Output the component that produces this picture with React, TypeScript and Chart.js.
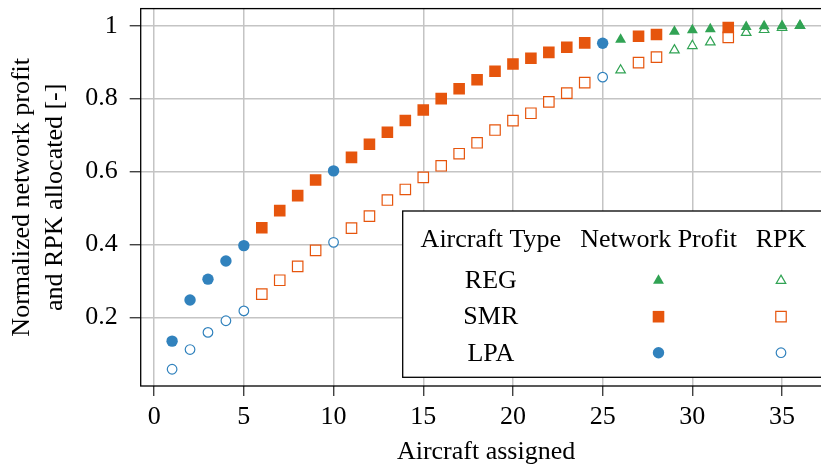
import React, { useEffect, useRef } from 'react';
import { Chart, registerables } from 'chart.js';

Chart.register(...registerables);

const FONT = "'Liberation Serif', 'Times New Roman', Times, serif";
const GREEN = '#31a354';
const ORANGE = '#e6550d';
const BLUE = '#3182bd';
const GRID = '#c4c4c4';

// ---- data ----
const regX = [26, 29, 30, 31, 33, 34, 35, 36];
const regProfit = [0.962, 0.984, 0.988, 0.991, 0.997, 0.999, 1.0, 1.0];
const regRpk = [0.878, 0.933, 0.945, 0.955, 0.981, 0.989, 0.995, 1.0];

const smrX = [6, 7, 8, 9, 11, 12, 13, 14, 15, 16, 17, 18, 19, 20, 21, 22, 23, 24, 27, 28, 32];
const smrProfit = [0.446, 0.493, 0.534, 0.577, 0.639, 0.675, 0.708, 0.74, 0.769, 0.8, 0.827, 0.852, 0.875, 0.895, 0.911, 0.927, 0.941, 0.953, 0.971, 0.976, 0.995];
const smrRpk = [0.264, 0.302, 0.34, 0.384, 0.445, 0.478, 0.522, 0.551, 0.584, 0.616, 0.649, 0.679, 0.714, 0.74, 0.76, 0.791, 0.815, 0.844, 0.899, 0.914, 0.968];

const lpaX = [1, 2, 3, 4, 5, 10, 25];
const lpaProfit = [0.135, 0.248, 0.305, 0.355, 0.397, 0.602, 0.952];
const lpaRpk = [0.058, 0.112, 0.159, 0.191, 0.218, 0.406, 0.859];

const xTicks = [0, 5, 10, 15, 20, 25, 30, 35];
const yTicks = [0.2, 0.4, 0.6, 0.8, 1.0];

const legendHeaders = ['Aircraft Type', 'Network Profit', 'RPK'];
const legendRows = ['REG', 'SMR', 'LPA'];
const xTitle = 'Aircraft assigned';
const yTitle = ['Normalized network profit', 'and RPK allocated [-]'];

const pts = (xs: number[], ys: number[]) => xs.map((x, i) => ({ x, y: ys[i] }));

type MarkerStyle = 'circle' | 'rect' | 'triangle';
interface Mk { style: MarkerStyle; filledR: number; openR: number; color: string }
const markers: Mk[] = [
  { style: 'triangle', filledR: 6.3, openR: 5.5, color: GREEN },
  { style: 'rect', filledR: 8.2, openR: 7.4, color: ORANGE },
  { style: 'circle', filledR: 5.7, openR: 4.8, color: BLUE },
];

function drawMarker(ctx: CanvasRenderingContext2D, style: MarkerStyle, x: number, y: number, r: number, fill: string, stroke: string, lw: number) {
  ctx.beginPath();
  if (style === 'circle') {
    ctx.arc(x, y, r, 0, Math.PI * 2);
  } else if (style === 'rect') {
    const s = r * Math.SQRT1_2;
    ctx.rect(x - s, y - s, 2 * s, 2 * s);
  } else {
    for (let k = 0; k < 3; k++) {
      const a = (k * 2 * Math.PI) / 3;
      const px = x + Math.sin(a) * r;
      const py = y - Math.cos(a) * r;
      if (k === 0) ctx.moveTo(px, py);
      else ctx.lineTo(px, py);
    }
    ctx.closePath();
  }
  ctx.fillStyle = fill;
  ctx.fill();
  if (lw > 0) {
    ctx.lineWidth = lw;
    ctx.strokeStyle = stroke;
    ctx.stroke();
  }
}

const framePlugin = {
  id: 'frameAndTable',
  afterDraw(chart: any) {
    const { ctx, chartArea: ca } = chart;
    ctx.save();
    ctx.strokeStyle = '#000';
    ctx.lineWidth = 1.3;
    ctx.strokeRect(ca.left, ca.top, ca.right - ca.left, ca.bottom - ca.top);

    // table-style legend
    const bx = 402.7, by = 211, bw = 440, bh = 166.3;
    ctx.fillStyle = '#fff';
    ctx.fillRect(bx, by, bw, bh);
    ctx.strokeRect(bx, by, bw, bh);

    const colX = [490.8, 658.5, 781];
    ctx.fillStyle = '#000';
    ctx.font = `26px ${FONT}`;
    ctx.textAlign = 'center';
    ctx.textBaseline = 'alphabetic';
    legendHeaders.forEach((h, i) => ctx.fillText(h, colX[i], 246.7));
    const rowBase = [288.3, 324.3, 360.6];
    const rowMid = [280.6, 316.7, 352.7];
    legendRows.forEach((r, i) => {
      ctx.fillStyle = '#000';
      ctx.fillText(r, colX[0], rowBase[i]);
      const m = markers[i];
      drawMarker(ctx, m.style, colX[1], rowMid[i], m.filledR, m.color, m.color, 0);
      drawMarker(ctx, m.style, colX[2], rowMid[i], m.openR, '#fff', m.color, 1.2);
    });
    ctx.restore();
  },
};

function filledSet(label: string, data: any[], m: Mk) {
  return {
    label,
    data,
    pointStyle: m.style,
    pointRadius: m.filledR,
    pointBackgroundColor: m.color,
    pointBorderColor: m.color,
    pointBorderWidth: 0,
    showLine: false,
  };
}
function openSet(label: string, data: any[], m: Mk) {
  return {
    label,
    data,
    pointStyle: m.style,
    pointRadius: m.openR,
    pointBackgroundColor: '#fff',
    pointBorderColor: m.color,
    pointBorderWidth: 1.2,
    showLine: false,
  };
}

export default function App() {
  const ref = useRef<HTMLCanvasElement>(null);
  useEffect(() => {
    document.body.style.margin = '0';
    const chart = new Chart(ref.current as HTMLCanvasElement, {
      type: 'scatter',
      data: {
        datasets: [
          filledSet('REG Network Profit', pts(regX, regProfit), markers[0]),
          filledSet('SMR Network Profit', pts(smrX, smrProfit), markers[1]),
          filledSet('LPA Network Profit', pts(lpaX, lpaProfit), markers[2]),
          openSet('REG RPK', pts(regX, regRpk), markers[0]),
          openSet('SMR RPK', pts(smrX, smrRpk), markers[1]),
          openSet('LPA RPK', pts(lpaX, lpaRpk), markers[2]),
        ] as any,
      },
      options: {
        animation: false,
        responsive: false,
        devicePixelRatio: 1,
        layout: { padding: { top: 6.3, right: 8.2, left: 0, bottom: 0 } },
        plugins: { legend: { display: false }, tooltip: { enabled: false } },
        scales: {
          x: {
            type: 'linear',
            min: -0.75,
            max: 37.75,
            afterBuildTicks: (s: any) => { s.ticks = xTicks.map((v) => ({ value: v })); },
            afterFit: (s: any) => { s.height = 83; s.paddingLeft = 0; s.paddingRight = 0; },
            border: { display: false },
            grid: { color: GRID, lineWidth: 1.5, tickLength: 10, tickColor: '#222', tickWidth: 1.2 },
            ticks: {
              color: '#000',
              padding: 6,
              maxRotation: 0,
              font: { family: FONT, size: 26 },
              callback: (v: any) => String(v),
            },
            title: {
              display: true,
              text: xTitle,
              color: '#000',
              font: { family: FONT, size: 26, lineHeight: 1.2 },
              padding: { top: 0, bottom: 1.7 },
            },
          },
          y: {
            type: 'linear',
            min: 0.012,
            max: 1.047,
            afterBuildTicks: (s: any) => { s.ticks = yTicks.map((v) => ({ value: v })); },
            afterFit: (s: any) => { s.width = 140.7; s.paddingTop = 0; s.paddingBottom = 0; },
            border: { display: false },
            grid: { color: GRID, lineWidth: 1.5, tickLength: 11, tickColor: '#222', tickWidth: 1.2 },
            ticks: {
              color: '#000',
              padding: 12,
              font: { family: FONT, size: 26 },
              callback: (v: any) => String(Number(Number(v).toFixed(2))),
            },
            title: {
              display: true,
              text: yTitle,
              color: '#000',
              font: { family: FONT, size: 26, lineHeight: 1.27 },
              padding: { top: 5.7, bottom: 0 },
            },
          },
        },
      } as any,
      plugins: [framePlugin],
    });
    return () => chart.destroy();
  }, []);
  return (
    <div style={{ position: 'fixed', left: 0, top: 0, width: 821, height: 469, overflow: 'hidden', background: '#fff' }}>
      <canvas ref={ref} width={840} height={469} style={{ display: 'block', width: 840, height: 469 }} />
    </div>
  );
}
